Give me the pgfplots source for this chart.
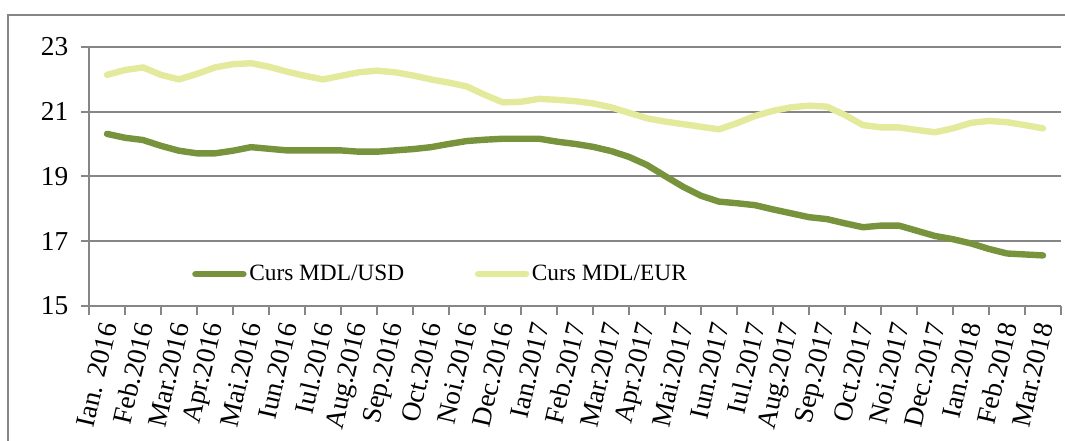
\documentclass[border=0pt]{standalone}
\usepackage{fontspec}
\setmainfont{Liberation Serif}
\usepackage{pgfplots}
\usepackage{pgfplotstable}
\pgfplotsset{compat=1.18}
\definecolor{usdc}{RGB}{119,147,60}
\definecolor{eurc}{RGB}{228,234,155}
\definecolor{gridc}{RGB}{134,134,134}

\pgfplotstableread{
x USD EUR
0 20.31 22.13
0.5 20.19 22.28
1 20.12 22.36
1.5 19.94 22.13
2 19.79 21.99
2.5 19.71 22.16
3 19.71 22.36
3.5 19.79 22.46
4 19.90 22.49
4.5 19.85 22.38
5 19.80 22.23
5.5 19.80 22.10
6 19.80 21.99
6.5 19.80 22.10
7 19.76 22.21
7.5 19.76 22.26
8 19.80 22.21
8.5 19.84 22.11
9 19.90 21.99
9.5 20.00 21.89
10 20.09 21.77
10.5 20.13 21.51
11 20.16 21.28
11.5 20.16 21.30
12 20.16 21.39
12.5 20.07 21.36
13 20.00 21.32
13.5 19.91 21.25
14 19.78 21.13
14.5 19.60 20.96
15 19.35 20.79
15.5 19.01 20.69
16 18.68 20.61
16.5 18.40 20.53
17 18.22 20.45
17.5 18.17 20.64
18 18.11 20.86
18.5 17.98 21.02
19 17.86 21.13
19.5 17.74 21.18
20 17.68 21.15
20.5 17.55 20.89
21 17.43 20.58
21.5 17.48 20.51
22 17.48 20.51
22.5 17.32 20.43
23 17.16 20.36
23.5 17.06 20.48
24 16.93 20.65
24.5 16.76 20.71
25 16.62 20.67
25.5 16.59 20.58
26 16.56 20.48
}\ratestable

\begin{document}
\begin{tikzpicture}
\useasboundingbox (0,0) rectangle (798.75pt,-330.75pt);
\draw[gridc, line width=1.5pt] (6pt,-340pt) -- (6pt,-11.25pt) -- (810pt,-11.25pt);
\begin{axis}[
  at={(66.75pt,-229.5pt)}, anchor=south west,
  scale only axis, width=729pt, height=194.5pt,
  xmin=-0.5, xmax=26.5, ymin=15, ymax=23,
  ytick={15,17,19,21,23},
  xtick={0,...,26},
  xticklabels={Ian. 2016,Feb.2016,Mar.2016,Apr.2016,Mai.2016,Iun.2016,Iul.2016,Aug.2016,Sep.2016,Oct.2016,Noi.2016,Dec.2016,Ian.2017,Feb.2017,Mar.2017,Apr.2017,Mai.2017,Iun.2017,Iul.2017,Aug.2017,Sep.2017,Oct.2017,Noi.2017,Dec.2017,Ian.2018,Feb.2018,Mar.2018},
  minor xtick={-0.5,0.5,...,26.5},
  axis lines*=left,
  axis line style={-, gridc, line width=1.5pt},
  tick align=outside,
  major x tick style={draw=none},
  minor x tick style={gridc, line width=1.5pt},
  minor tick length=6.75pt,
  y tick style={gridc, line width=1.5pt},
  major tick length=6pt,
  ymajorgrids,
  grid style={gridc, line width=1.5pt},
  /pgf/number format/assume math mode=true,
  yticklabel style={font=\fontsize{20.5}{24}\selectfont, xshift=-6pt},
  xticklabel style={font=\fontsize{20.5}{24}\selectfont, rotate=77, anchor=east, yshift=-2.7pt, xshift=-3.1pt},
  legend style={at={(0.362,0.123)}, anchor=center, draw=none, fill=none,
    font=\fontsize{17.5}{22}\selectfont,
    /tikz/every even column/.append style={column sep=51pt}},
  legend columns=2,
  legend image code/.code={\draw[#1] (0pt,0pt) -- (36pt,0pt);},
  clip=false,
]
\addplot[usdc, line width=4.8pt, line cap=round, line join=round] table[x=x, y=USD] {\ratestable};
\addlegendentry{Curs MDL/USD}
\addplot[eurc, line width=4.8pt, line cap=round, line join=round] table[x=x, y=EUR] {\ratestable};
\addlegendentry{Curs MDL/EUR}
\end{axis}
\end{tikzpicture}
\end{document}
